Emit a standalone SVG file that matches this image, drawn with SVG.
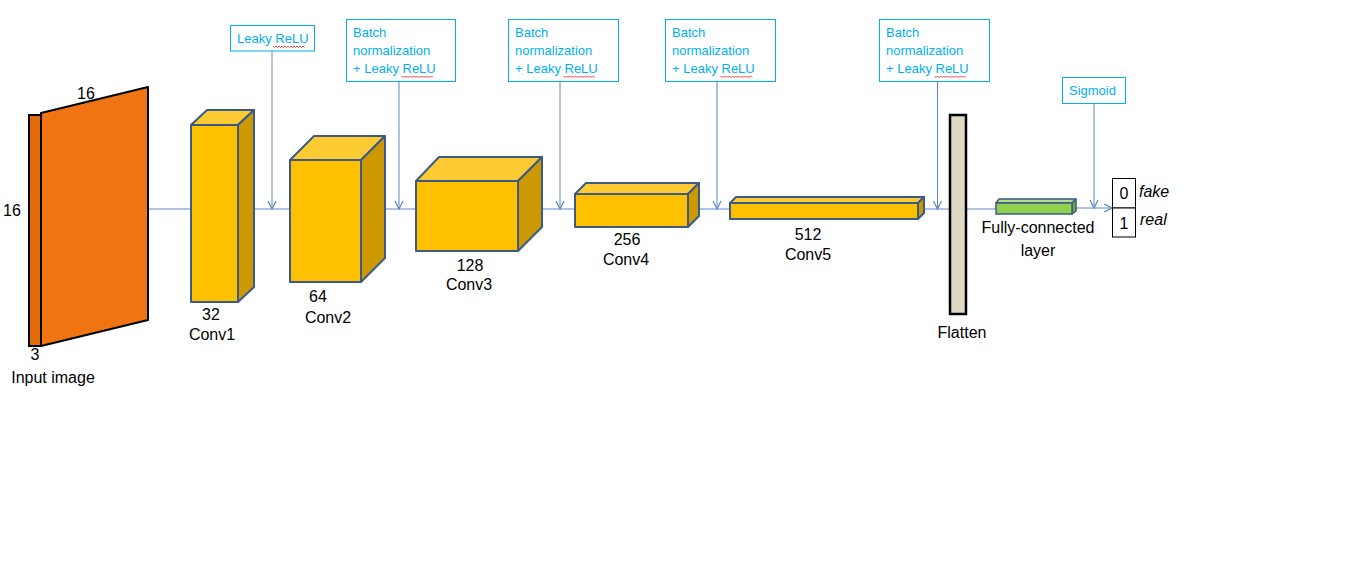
<svg xmlns="http://www.w3.org/2000/svg" width="1360" height="575" viewBox="0 0 1360 575">
<defs>
<marker id="arr" viewBox="0 0 10 10" refX="9" refY="5" markerWidth="10" markerHeight="10" markerUnits="userSpaceOnUse" orient="auto">
<path d="M1,1 L9,5 L1,9" fill="none" stroke="#5B86C5" stroke-width="1.2"/>
</marker>
</defs>
<style>
text{font-family:"Liberation Sans",Arial,sans-serif}
.lbl{font-size:16px;fill:#000;text-anchor:middle}
.ann{font-size:13px;fill:#00B0F0}
.abox{fill:#fff;stroke:#00B0F0;stroke-width:1}
.front{fill:#FFC000;stroke:#3B5A8A;stroke-width:2;stroke-linejoin:round}
.top{fill:#FFCB33;stroke:#3B5A8A;stroke-width:2;stroke-linejoin:round}
.side{fill:#CC9A00;stroke:#3B5A8A;stroke-width:2;stroke-linejoin:round}
.conn{fill:none;stroke:#5B86C5;stroke-width:1}
.sq{fill:none;stroke:#E02020;stroke-width:0.8}
</style>
<rect width="1360" height="575" fill="#fff"/>

<g id="connectors">
<line class="conn" x1="148" y1="209" x2="191" y2="209"/>
<line class="conn" x1="254" y1="209" x2="290" y2="209"/>
<line class="conn" x1="385" y1="209" x2="416" y2="209"/>
<line class="conn" x1="542" y1="209" x2="575" y2="209"/>
<line class="conn" x1="699" y1="209" x2="730" y2="209"/>
<line class="conn" x1="924" y1="209" x2="950" y2="209"/>
<line class="conn" x1="966" y1="209" x2="996" y2="209"/>
<line class="conn" x1="1076" y1="208" x2="1112" y2="208" marker-end="url(#arr)"/>
<line class="conn" x1="272" y1="51" x2="272" y2="209" marker-end="url(#arr)"/>
<line class="conn" x1="399" y1="81" x2="399" y2="209" marker-end="url(#arr)"/>
<line class="conn" x1="560" y1="81" x2="560" y2="209" marker-end="url(#arr)"/>
<line class="conn" x1="717" y1="81" x2="717" y2="209" marker-end="url(#arr)"/>
<line class="conn" x1="937.5" y1="81" x2="937.5" y2="209" marker-end="url(#arr)"/>
<line class="conn" x1="1094" y1="103" x2="1094" y2="208" marker-end="url(#arr)"/>
</g>

<g id="input">
<rect x="29" y="115" width="12" height="231" fill="#E36C09" stroke="#000" stroke-width="2"/>
<polygon points="41,113 148,87 148,320 41,346" fill="#F07412" stroke="#000" stroke-width="2" stroke-linejoin="round"/>
<text class="lbl" x="86" y="99">16</text>
<text class="lbl" x="12" y="216">16</text>
<text class="lbl" x="35" y="360">3</text>
<text class="lbl" x="53" y="383">Input image</text>
</g>

<g id="conv1">
<polygon class="top" points="191,125 207,110 254,110 238,125"/>
<polygon class="side" points="238,125 254,110 254,287 238,302"/>
<rect class="front" x="191" y="125" width="47" height="177"/>
<text class="lbl" x="211" y="320">32</text>
<text class="lbl" x="212" y="340">Conv1</text>
</g>

<g id="conv2">
<polygon class="top" points="290,160 314,136 385,136 361,160"/>
<polygon class="side" points="361,160 385,136 385,258 361,282"/>
<rect class="front" x="290" y="160" width="71" height="122"/>
<text class="lbl" x="318" y="302">64</text>
<text class="lbl" x="328" y="323">Conv2</text>
</g>

<g id="conv3">
<polygon class="top" points="416,181 439,157 542,157 518,181"/>
<polygon class="side" points="518,181 542,157 542,227 518,251"/>
<rect class="front" x="416" y="181" width="102" height="70"/>
<text class="lbl" x="470" y="271">128</text>
<text class="lbl" x="469" y="290">Conv3</text>
</g>

<g id="conv4">
<polygon class="top" points="575,194 586,183 699,183 688,194"/>
<polygon class="side" points="688,194 699,183 699,216 688,227"/>
<rect class="front" x="575" y="194" width="113" height="33"/>
<text class="lbl" x="627" y="245">256</text>
<text class="lbl" x="626" y="265">Conv4</text>
</g>

<g id="conv5">
<polygon class="top" points="730,203 736,197 924,197 918,203"/>
<polygon class="side" points="918,203 924,197 924,213 918,219"/>
<rect class="front" x="730" y="203" width="188" height="16"/>
<text class="lbl" x="808" y="240">512</text>
<text class="lbl" x="808" y="260">Conv5</text>
</g>

<g id="flatten">
<rect x="950" y="115" width="16" height="199" fill="#DDD9C3" stroke="#000" stroke-width="2.5"/>
<text class="lbl" x="962" y="338">Flatten</text>
</g>

<g id="fc">
<polygon points="996,203 999,199 1076,199 1072,203" fill="#B3DE86" stroke="#3B5A8A" stroke-width="1.5" stroke-linejoin="round"/>
<polygon points="1072,203 1076,199 1076,211 1072,214" fill="#76A93A" stroke="#3B5A8A" stroke-width="1.5" stroke-linejoin="round"/>
<rect x="996" y="203" width="76" height="11" fill="#92D050" stroke="#3B5A8A" stroke-width="1.5"/>
<text class="lbl" x="1038" y="233">Fully-connected</text>
<text class="lbl" x="1038" y="256">layer</text>
</g>

<g id="output">
<rect x="1112.5" y="178.5" width="23" height="29.5" fill="#fff" stroke="#000" stroke-width="1"/>
<rect x="1112.5" y="208" width="23" height="29" fill="#fff" stroke="#000" stroke-width="1"/>
<text class="lbl" x="1124" y="199">0</text>
<text class="lbl" x="1124" y="229">1</text>
<text x="1139" y="197" font-size="16" font-style="italic" fill="#000">fake</text>
<text x="1140" y="225" font-size="16" font-style="italic" fill="#000">real</text>
</g>

<g id="ann-leaky">
<rect class="abox" x="230.5" y="25.5" width="84" height="25.5"/>
<text class="ann" x="237" y="43">Leaky ReLU</text>
<path class="sq" d="M273,46 l1.5,1.5 l1.5,-1.5 l1.5,1.5 l1.5,-1.5 l1.5,1.5 l1.5,-1.5 l1.5,1.5 l1.5,-1.5 l1.5,1.5 l1.5,-1.5 l1.5,1.5 l1.5,-1.5 l1.5,1.5 l1.5,-1.5 l1.5,1.5 l1.5,-1.5 l1.5,1.5 l1.5,-1.5 l1.5,1.5 l1.5,-1.5 l1.5,1.5"/>
</g>

<g id="ann-bn1">
<rect class="abox" x="346.5" y="19.5" width="109" height="62"/>
<text class="ann" x="353" y="37">Batch</text>
<text class="ann" x="353" y="55">normalization</text>
<text class="ann" x="353" y="73">+ Leaky ReLU</text>
<path class="sq" transform="translate(128.5,30)" d="M273,46 l1.5,1.5 l1.5,-1.5 l1.5,1.5 l1.5,-1.5 l1.5,1.5 l1.5,-1.5 l1.5,1.5 l1.5,-1.5 l1.5,1.5 l1.5,-1.5 l1.5,1.5 l1.5,-1.5 l1.5,1.5 l1.5,-1.5 l1.5,1.5 l1.5,-1.5 l1.5,1.5 l1.5,-1.5 l1.5,1.5 l1.5,-1.5 l1.5,1.5" />
</g>

<g id="ann-bn2">
<rect class="abox" x="508.5" y="19.5" width="110" height="62"/>
<text class="ann" x="515" y="37">Batch</text>
<text class="ann" x="515" y="55">normalization</text>
<text class="ann" x="515" y="73">+ Leaky ReLU</text>
<path class="sq" transform="translate(290.5,30)" d="M273,46 l1.5,1.5 l1.5,-1.5 l1.5,1.5 l1.5,-1.5 l1.5,1.5 l1.5,-1.5 l1.5,1.5 l1.5,-1.5 l1.5,1.5 l1.5,-1.5 l1.5,1.5 l1.5,-1.5 l1.5,1.5 l1.5,-1.5 l1.5,1.5 l1.5,-1.5 l1.5,1.5 l1.5,-1.5 l1.5,1.5 l1.5,-1.5 l1.5,1.5" />
</g>

<g id="ann-bn3">
<rect class="abox" x="665.5" y="19.5" width="110" height="62"/>
<text class="ann" x="672" y="37">Batch</text>
<text class="ann" x="672" y="55">normalization</text>
<text class="ann" x="672" y="73">+ Leaky ReLU</text>
<path class="sq" transform="translate(447.5,30)" d="M273,46 l1.5,1.5 l1.5,-1.5 l1.5,1.5 l1.5,-1.5 l1.5,1.5 l1.5,-1.5 l1.5,1.5 l1.5,-1.5 l1.5,1.5 l1.5,-1.5 l1.5,1.5 l1.5,-1.5 l1.5,1.5 l1.5,-1.5 l1.5,1.5 l1.5,-1.5 l1.5,1.5 l1.5,-1.5 l1.5,1.5 l1.5,-1.5 l1.5,1.5" />
</g>

<g id="ann-bn4">
<rect class="abox" x="879.5" y="19.5" width="110" height="62"/>
<text class="ann" x="886" y="37">Batch</text>
<text class="ann" x="886" y="55">normalization</text>
<text class="ann" x="886" y="73">+ Leaky ReLU</text>
<path class="sq" transform="translate(661.5,30)" d="M273,46 l1.5,1.5 l1.5,-1.5 l1.5,1.5 l1.5,-1.5 l1.5,1.5 l1.5,-1.5 l1.5,1.5 l1.5,-1.5 l1.5,1.5 l1.5,-1.5 l1.5,1.5 l1.5,-1.5 l1.5,1.5 l1.5,-1.5 l1.5,1.5 l1.5,-1.5 l1.5,1.5 l1.5,-1.5 l1.5,1.5 l1.5,-1.5 l1.5,1.5" />
</g>

<g id="ann-sigmoid">
<rect class="abox" x="1062.5" y="77.5" width="63" height="26"/>
<text class="ann" x="1069" y="95">Sigmoid</text>
</g>
</svg>
